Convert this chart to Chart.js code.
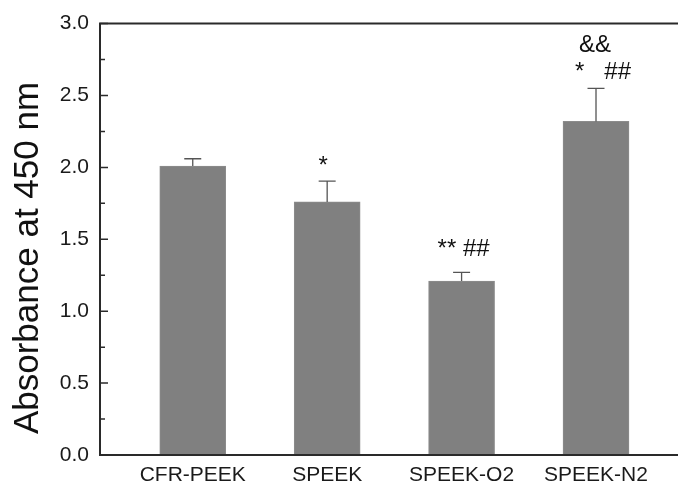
<!DOCTYPE html>
<html>
<head>
<meta charset="utf-8">
<script src="https://cdn.jsdelivr.net/npm/chart.js@4/dist/chart.umd.min.js"></script>
<style>
  html, body { margin: 0; padding: 0; background: #fff; }
  #wrap { width: 678px; height: 488px; }
</style>
</head>
<body>
<div id="wrap"><canvas id="grafico"></canvas></div>
<script>
var grupos = ["CFR-PEEK", "SPEEK", "SPEEK-O2", "SPEEK-N2"]
var absorbancia = [2.01, 1.76, 1.21, 2.32]
var erro = [0.05, 0.145, 0.06, 0.23]
var yTicks = [0, 0.5, 1.0, 1.5, 2.0, 2.5, 3.0]
var marcas = [["*"], ["** ##"], ["&&", "*   ##"]]
var marcasIdx = [1, 2, 3]
var tituloY = "Absorbance at 450 nm"

var fonte = "'Liberation Sans', Arial, sans-serif"

// upper error bars, frame lines, inside ticks, y title and the significance marks
var extras = {
  id: "extras",
  afterDatasetsDraw: function(chart){
    var ctx = chart.ctx
    var x = chart.scales.x
    var y = chart.scales.y
    var a = chart.chartArea
    ctx.save()

    ctx.strokeStyle = "#555"
    ctx.lineWidth = 1.3
    absorbancia.forEach(function(v, i){
      var px = x.getPixelForValue(i + 1)
      var top = y.getPixelForValue(v + erro[i])
      ctx.beginPath()
      ctx.moveTo(px, y.getPixelForValue(v))
      ctx.lineTo(px, top)
      ctx.moveTo(px - 8.5, top)
      ctx.lineTo(px + 8.5, top)
      ctx.stroke()
    })

    ctx.strokeStyle = "#2a2a2a"
    ctx.lineWidth = 2
    ctx.beginPath()
    ctx.moveTo(a.right, a.top)
    ctx.lineTo(a.left, a.top)
    ctx.lineTo(a.left, a.bottom)
    ctx.lineTo(a.right, a.bottom)
    ctx.stroke()

    ctx.lineWidth = 1.5
    ctx.beginPath()
    for (var t = 0; t <= 3.0001; t += 0.25){
      var py = y.getPixelForValue(t)
      var major = Math.abs(t * 2 - Math.round(t * 2)) < 0.001
      ctx.moveTo(a.left, py)
      ctx.lineTo(a.left + (major ? 8 : 5), py)
    }
    ctx.stroke()

    ctx.fillStyle = "#111"
    ctx.font = "24px " + fonte
    ctx.textAlign = "center"
    ctx.textBaseline = "alphabetic"
    var dx = [-4, 2, 7]
    var gap = [8, 16, 9]
    marcas.forEach(function(linhas, k){
      var i = marcasIdx[k]
      var px = x.getPixelForValue(i + 1)
      var base = y.getPixelForValue(absorbancia[i] + erro[i]) - gap[k]
      for (var j = linhas.length - 1; j >= 0; j--){
        var off = (linhas.length - 1 - j) * 27
        var sx = (j == linhas.length - 1) ? dx[k] : -1
        ctx.fillText(linhas[j], px + sx, base - off)
      }
    })

    ctx.translate(28.6, 258)
    ctx.rotate(-Math.PI / 2)
    ctx.font = "35px " + fonte
    ctx.textBaseline = "middle"
    ctx.fillText(tituloY, 0, 0)
    ctx.restore()
  }
}

new Chart(document.getElementById("grafico"), {
  type: "bar",
  data: {
    datasets: [{
      data: absorbancia.map(function(v, i){ return { x: i + 1, y: v } }),
      backgroundColor: "#808080",
      borderColor: "#8c8c8c",
      borderWidth: 1,
      barThickness: 66
    }]
  },
  options: {
    responsive: true,
    maintainAspectRatio: false,
    animation: false,
    layout: { padding: { top: 20, right: 0, bottom: 0, left: 0 } },
    plugins: { legend: { display: false }, tooltip: { enabled: false } },
    scales: {
      x: {
        type: "linear",
        offset: false,
        min: 0.31,
        max: 4.61,
        afterBuildTicks: function(s){
          s.ticks = grupos.map(function(g, i){ return { value: i + 1 } })
        },
        afterFit: function(s){ s.height = 33 },
        grid: { display: false, drawTicks: false, offset: false },
        border: { display: false },
        ticks: {
          padding: 8,
          color: "#1a1a1a",
          font: { family: fonte, size: 21 },
          maxRotation: 0,
          autoSkip: false,
          callback: function(v){ return grupos[v - 1] || "" }
        }
      },
      y: {
        min: 0,
        max: 3,
        afterBuildTicks: function(s){
          s.ticks = yTicks.map(function(v){ return { value: v } })
        },
        afterFit: function(s){ s.width = 100 },
        grid: { display: false, drawTicks: false },
        border: { display: false },
        ticks: {
          padding: 11,
          color: "#1a1a1a",
          font: { family: fonte, size: 21 },
          callback: function(v){ return v.toFixed(1) }
        }
      }
    }
  },
  plugins: [extras]
})
</script>
</body>
</html>
